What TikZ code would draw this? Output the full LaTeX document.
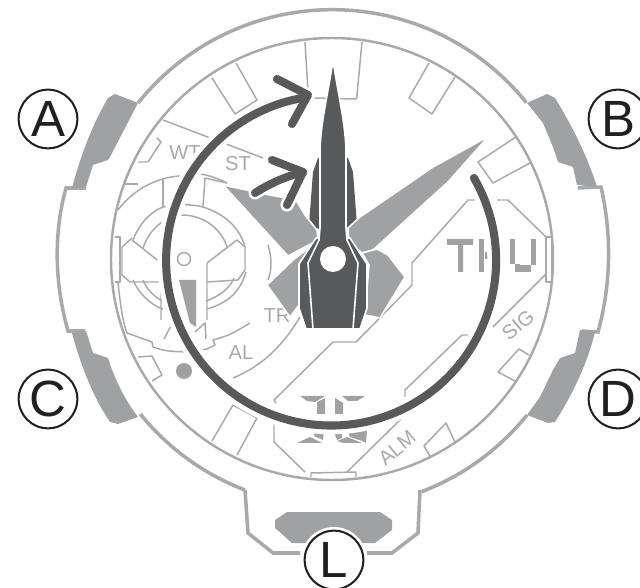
\documentclass[tikz,border=0pt]{standalone}
\usepackage{fontspec}
\setmainfont{Liberation Sans}
\definecolor{casegray}{HTML}{A7A9AC}
\definecolor{fillgray}{HTML}{9FA1A3}
\definecolor{handdark}{HTML}{58595B}
\definecolor{labelblack}{HTML}{231F20}
\tikzset{
  contour/.style={casegray,line width=2pt},
  ring/.style={casegray,line width=1.4pt},
  thinline/.style={casegray,line width=0.85pt,line join=round},
  graypart/.style={fill=fillgray,draw=none},
  handpart/.style={fill=handdark,draw=white,line width=0.9pt,line join=miter},
  lighthand/.style={fill=fillgray,draw=white,line width=0.9pt},
  dial/.style={text=casegray,font=\fontsize{11.5}{12}\selectfont,inner sep=0pt},
  keylabel/.style={circle,draw=labelblack,line width=1.15pt,fill=white,text=labelblack,
    minimum size=33.4pt,inner sep=0pt,font=\fontsize{29}{30}\selectfont},
  sweep/.style={handdark,line width=4.6pt,line cap=round,line join=round},
  sweepback/.style={white,line width=10pt,line cap=round,line join=round}
}
\begin{document}
\begin{tikzpicture}[x=0.02cm,y=-0.02cm]
  \useasboundingbox (0,0) rectangle (640,588);
  \clip (0,0) rectangle (640,588);
  % case
  \draw[contour](138,103) arc[start angle=218.7,end angle=321.2,radius=249];
  \draw[contour](527,415) arc[start angle=38.8,end angle=69.1,radius=249];
  \draw[contour](245,490) arc[start angle=110.9,end angle=141,radius=249];
  \draw[contour](86,188)--(66,188) .. controls (53,235) and (55,285) .. (68,331)--(85,331);
  \draw[contour](578,188)--(601,187) .. controls (612,235) and (611,285) .. (598,332)--(582,331);
  \draw[contour](245,490)--(248,533)--(273,553)--(300,553);
  \draw[contour](367,553)--(392,553)--(418,533)--(420,490);
  \draw[ring](332,259) circle[radius=221];
  % buttons
  \fill[graypart](138,103)--(115,94)--(108,98) .. controls (95,120) and (82,150) .. (72,188)--(86,187)--(93,165)--(108,160)--(110,157)--cycle;
  \fill[graypart](527,103)--(547,94)--(555,98) .. controls (570,122) and (587,155) .. (597,187)--(577,185)--(573,167)--(558,162)--(553,147)--(543,123)--cycle;
  \fill[graypart](72,333)--(86,331)--(93,353)--(108,358) .. controls (115,380) and (125,400) .. (138,417)--(118,424)--(110,422) .. controls (95,400) and (82,370) .. (72,333);
  \fill[graypart](527,415)--(548,423)--(555,422) .. controls (572,395) and (587,365) .. (595,332)--(580,330)--(575,353)--(560,358)--(553,370)--(540,397)--cycle;
  \fill[graypart](275,520)--(287,512)--(380,512)--(392,520)--(392,530)--(375,543)--(292,543)--(275,528)--cycle;
  % hour marks
  \draw[thinline](305,42)--(308,92);
  \draw[thinline](315,98)--(353,99) .. controls (357,99) .. (357,95)--(362,42);
  \draw[thinline](429,63)--(409,98)--(432,114)--(455,77);
  \draw[thinline](516,137)--(478,162)--(493,183)--(530,163);
  \draw[thinline](236,63)--(257,100)--(235,114)--(212,78);
  \draw[thinline](157,138)--(161,142)--(148,162)--(138,162);
  \draw[thinline](115,237)--(120,237)--(120,282)--(115,282);
  \draw[thinline](546,237)--(552,237)--(552,282)--(546,282)--cycle;
  \draw[thinline](529,355)--(519,349)--(498,372)--(517,382);
  \draw[thinline](455,442)--(446,423)--(424,446)--(430,456);
  \draw[thinline](311,477)--(311,473)--(356,472)--(356,477);
  \draw[thinline](212,441)--(233,405)--(257,418)--(237,455);
  \draw[thinline](138,357)--(152,356)--(162,375)--(152,381);
  % sectors
  \draw[thinline](163,120)--(263,158);
  \draw[thinline](125,184)--(138,184);
  \draw[thinline](118,210) arc[start angle=216.6,end angle=270,radius=85];
  \draw[thinline](184,174) .. controls (200,172) and (213,176) .. (227,183);
  \draw[thinline](118,283) .. controls (120,300) and (122,320) .. (127,333)--(152,342)--(153,347) .. controls (165,351) .. (187,352)--(207,349)--(215,345)--(213,340) .. controls (230,335) .. (250,323);
  \draw[thinline](268,245) .. controls (272,258) and (272,270) .. (268,280);
  \draw[thinline](233,378) .. controls (265,365) and (285,342) .. (300,317);
  \draw[thinline](163,309) .. controls (150,305) and (138,292) .. (133,280);
  \draw[thinline](207,309) .. controls (228,303) and (240,292) .. (246,272);
  \draw[thinline](162,301) .. controls (153,296) and (146,288) .. (143,280);
  \draw[thinline](206,301) .. controls (220,296) and (230,288) .. (234,278);
  \draw[thinline](133,240) .. controls (140,222) and (152,211) .. (163,207)
    .. controls (176,204) and (192,204) .. (203,207) .. controls (225,214) and (240,228) .. (245,247);
  \draw[thinline](143,248) .. controls (150,228) and (165,216) .. (184,215) .. controls (205,216) and (222,230) .. (227,247);
  % dial emblem
  \draw[thinline](163,179)--(163,207);
  \draw[thinline](205,178)--(203,207);
  \draw[thinline](205,178)--(227,183);
  \draw[thinline](132,238)--(122,247)--(122,275)--(130,282)--(161,282);
  \draw[thinline](132,240)--(161,263)--(161,320);
  \draw[thinline](237,240)--(207,263)--(207,320);
  \draw[thinline](237,240)--(245,247)--(245,270)--(238,280)--(207,282);
  \draw[thinline](164,339)--(173,322)--(180,338);
  \draw[thinline](206,339)--(205,323)--(195,332);
  \draw[thinline](184,259) circle[radius=6.5];
  \fill[graypart](179,280)--(196,280)--(196,327)--(190,323)--cycle;
  \fill[graypart](184,371) circle[radius=8];
  % display frame
  \draw[thinline](475,200)--(468,200)--(412,263)--(412,285)--(368,330)--(356,342)--(333,342)--(274,400)--(276,403);
  \draw[thinline](274,422)--(274,442)--(305,472);
  \draw[thinline](347,472)--(402,418);
  \draw[thinline](405,397)--(405,390)--(462,335)--(468,335);
  \draw[thinline](497,200)--(508,200)--(546,237);
  \draw[thinline](546,274)--(493,327);
  % digits
  \fill[graypart](447,239)--(473,239)--(473,245)--(463,245)--(463,272)--(458,272)--(458,245)--(447,245)--cycle;
  \fill[graypart](479,239)--(484,239)--(484,272)--(479,272)--cycle;
  \fill[graypart](485,252)--(490,252)--(490,259)--(485,259)--cycle;
  \fill[graypart](510,239)--(515,239)--(515,264)--(510,264)--cycle;
  \fill[graypart](515,264)--(520,264)--(520,272)--(515,272)--cycle;
  \fill[graypart](520,265)--(531,265)--(531,272)--(520,272)--cycle;
  \fill[graypart](531,239)--(536,239)--(536,265)--(531,265)--cycle;
  \fill[graypart](300,396)--(325,396)--(315,402)--(307,401)--cycle;
  \fill[graypart](317,402)--(325,398)--(325,414)--(317,414)--cycle;
  \fill[graypart](365,396)--(342,396)--(348,401)--(357,401)--cycle;
  \fill[graypart](335,398)--(343,403)--(343,414)--(335,414)--cycle;
  \fill[graypart](297,443)--(310,437)--(322,443)--cycle;
  \fill[graypart](315,431)--(324,431)--(323,440)--(314,436)--cycle;
  \fill[graypart](334,432)--(342,432)--(342,438)--(337,440)--cycle;
  \fill[graypart](337,441)--(347,437)--(362,443)--(343,443)--cycle;
  \fill[graypart](348,432)--(367,429)--(366,443)--(362,441)--(350,437)--cycle;
  % printed labels
  \node[dial] (wt) at(185,153){WT};
  \node[dial] (st) at(238,164){ST};
  \node[dial] (al) at(241,353){AL};
  \node[dial] (tr) at(277,316){TR};
  \node[dial,rotate=40] (sig) at(518,325){SIG};
  \node[dial,rotate=40] (alm) at(397,448){ALM};
  % hands
  \fill[handdark](348,158)--(353,172)--(357,225)--(340,232)--(340,158)--cycle;
  \fill[handdark](318,158)--(313,172)--(309,225)--(326,232)--(326,158)--cycle;
  \draw[lighthand](489,136)--(433,167)--(360,217)--(348,228)--(349,242)--(362,253)--(373,250)--(448,182)--cycle;
  \draw[lighthand](377,249)--(388,255)--(405,277)--(380,318)--(365,315)--(369,265)--(362,253)--cycle;
  \draw[lighthand](223,185)--(270,195)--(296,200)--(305,215)--(317,230)--(318,240)--(288,256)--cycle;
  \draw[lighthand](267,285)--(293,260)--(318,241)--(300,262)--(299,305)--(290,317)--cycle;
  \draw[handpart](316,238)--(299,264)--(299,308)--(306,329)--(360,329)--(367,308)--(367,264)--(350,238)--cycle;
  \draw[handpart](333,60) .. controls (328,95) and (321,120) .. (320,150)--(320,228)--(319,240)--(308,263)--(313,329)--(353,329)--(358,263)--(347,240)--(346,228)--(346,150) .. controls (345,120) and (338,95) .. (333,60)--cycle;
  \fill[white](333,259) circle[radius=13];
  % sweep arrows
  \draw[sweepback](474,178) arc[start angle=-30,end angle=260,radius=165];
  \draw[white,line width=7.5pt,line cap=round,line join=round](277,79)--(308,95)--(292,124);
  \draw[sweep](474,178) arc[start angle=-30,end angle=260,radius=165];
  \draw[sweep](277,79)--(308,95)--(292,124);
  \draw[white,line width=7.5pt,line cap=round,line join=round](255,193) .. controls (272,182) and (288,176) .. (303,172);
  \draw[white,line width=7.5pt,line cap=round,line join=round](272,160)--(303,172)--(287,205);
  \draw[sweep](255,193) .. controls (272,182) and (288,176) .. (303,172);
  \draw[sweep](272,160)--(303,172)--(287,205);
  % key labels
  \fill[white](334,560) circle[radius=33];
  \foreach \t/\x/\y in {A/48/119,B/618/119,C/48/399,D/618/399,L/334/560}{
    \node[keylabel] (key\t) at(\x,\y){\t};
  }
\end{tikzpicture}
\end{document}
